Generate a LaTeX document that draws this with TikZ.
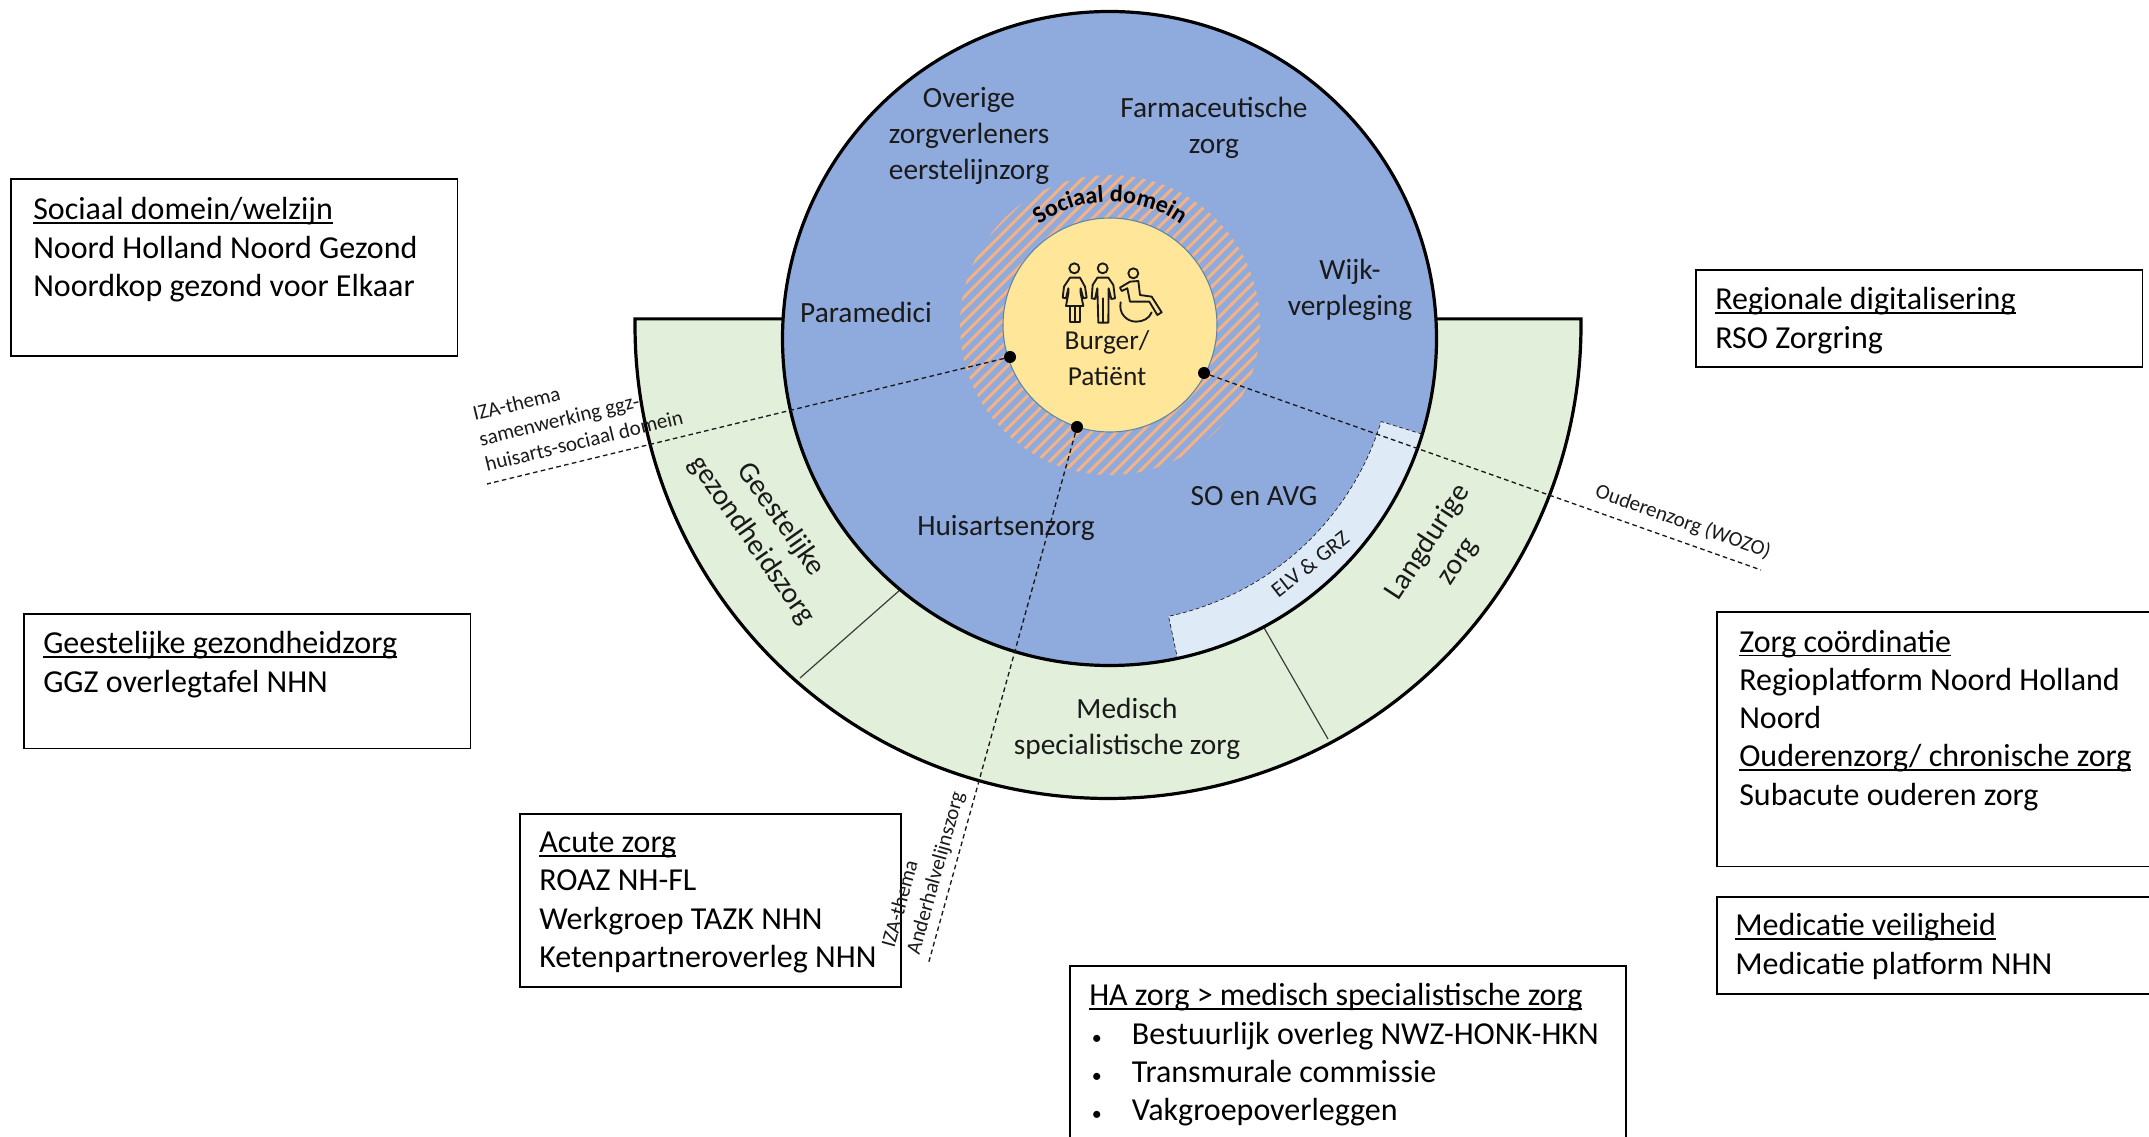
\documentclass[tikz,border=0pt]{standalone}
\usepackage{fontspec}
\setmainfont{Carlito}
\usetikzlibrary{decorations.text}
\definecolor{mainblue}{HTML}{8FAADC}
\definecolor{ringgreen}{HTML}{E2EFDA}
\definecolor{lightblue}{HTML}{DEEAF6}
\definecolor{coreyellow}{HTML}{FFE699}
\definecolor{hatch}{HTML}{F4B183}
\definecolor{ink}{HTML}{1A1A1A}
\definecolor{coreedge}{HTML}{5B86A8}
\newsavebox\ulbox
\newcommand\ulx[1]{\sbox\ulbox{#1}\rlap{\rule[-3pt]{\wd\ulbox}{1.2pt}}\usebox\ulbox}
\newcommand\bulletx{\makebox[32pt][l]{\hspace{2pt}\fontsize{15}{15}\selectfont •}}
\tikzset{
  x=0.75pt,y=0.75pt,
  infobox/.style={draw=black,line width=1.3pt,fill=white,anchor=north west,inner sep=0pt},
  boxtext/.style={anchor=north west,align=left,inner sep=0pt,font=\fontsize{24}{28.6}\selectfont,text=black},
  lbl/.style={align=center,inner sep=0pt,text=ink,font=\fontsize{22}{26.7}\selectfont},
  small/.style={align=left,inner sep=0pt,text=ink,font=\fontsize{15.8}{19.5}\selectfont},
  theme/.style={dash pattern=on 3.5pt off 2.5pt,line width=1pt,draw=ink},
  dot/.style={circle,fill=black,inner sep=0pt,minimum size=9pt},
  icon/.style={draw=ink,line width=1.4pt,line join=round,line cap=round,fill=none},
}
\begin{document}
\begin{tikzpicture}
\useasboundingbox (0,0) rectangle (2149,1136);
\clip (0,0) rectangle (2149,1136);
\coordinate (C) at (1109.5,797.5);
\coordinate (R) at (1108,810.5);
\coordinate (Y) at (1110,811);
% outer ring
\draw[fill=ringgreen,line width=2.4pt,draw=black] (R) ++(179.2:473) arc[start angle=179.2,end angle=360.8,radius=473] -- cycle;
\coordinate (d1a) at (900,546);\coordinate (d1b) at (800,458);
\coordinate (d2a) at (1263,510);\coordinate (d2b) at (1328,397);
\draw[line width=0.9pt,draw=ink!85] (d1a)--(d1b);
\draw[line width=0.9pt,draw=ink!85] (d2a)--(d2b);
% main circle
\fill[mainblue] (C) circle (327);
% ELV band
\draw[fill=lightblue,draw=ink,line width=0.5pt,densely dashed] (C) ++(-17:327) -- ++(-17:-43) arc[start angle=-17,end angle=-78,radius=284] -- ++(-78:43) arc[start angle=-78,end angle=-17,radius=327] -- cycle;
\draw[line width=2.4pt,draw=black] (C) circle (327);
% hatch ring
\begin{scope}
\clip (Y) circle (150);
\foreach \k in {-30,...,30}{
  \draw[hatch,line width=2.2pt] (960+\k*12.5,660) -- ++(320,320);
}
\end{scope}
\draw[fill=coreyellow,draw=coreedge,line width=0.8pt] (Y) circle (107);
\path[decorate,decoration={text along path,text align=center,text format delimiters={|}{|},text={|\fontsize{18}{18}\bfseries\selectfont|Sociaal domein}}]
  (Y) ++(150:123) arc[start angle=150,end angle=30,radius=123];
% icons
\begin{scope}[shift={(1050,881)},x=0.25pt,y=-0.25pt]
  \draw[icon] (73,40) circle (15);
  \draw[icon] (60,68) -- (42,95) -- (38,128) -- (48,130) -- (55,100) -- (55,115) -- (48,153) -- (100,153) -- (92,115) -- (92,100) -- (100,130) -- (110,128) -- (105,95) -- (90,68) -- cycle;
  \draw[icon] (60,153) -- (60,202) -- (90,202) -- (90,153) (75,153) -- (75,202);
  \draw[icon] (158,40) circle (15);
  \draw[icon] (142,68) -- (128,90) -- (125,130) -- (135,132) -- (142,100) -- (145,203) -- (175,203) -- (176,100) -- (184,132) -- (195,130) -- (190,90) -- (175,68) -- cycle;
  \draw[icon] (160,130) -- (160,203);
  \draw[icon] (250,55) circle (15);
  \draw[icon] (240,80) -- (210,98) -- (215,108) -- (232,100) -- (240,140) -- (298,140) -- (322,180) -- (335,172) -- (305,125) -- (270,120) -- (265,78) -- cycle;
  \draw[icon] (212,142) .. controls (205,175) and (230,200) .. (258,200) .. controls (280,200) and (298,190) .. (305,172);
\end{scope}
% dots
\node[dot] (dotL) at (1010,779) {};
\node[dot] (dotB) at (1077,709) {};
\node[dot] (dotR) at (1204,763) {};
\coordinate (endL) at (487,652);
\coordinate (endB) at (928,171);
\coordinate (endR) at (1761,566);
\draw[theme] (dotL) -- (endL);
\draw[theme] (dotB) -- (endB);
\draw[theme] (dotR) -- (endR);
% centre labels
\node[lbl] (overige) at (969,1000) {Overige\\zorgverleners\\eerstelijnzorg};
\node[lbl] (farma) at (1214,1008) {Farmaceutische\\zorg};
\node[lbl] (wijk) at (1350,846) {Wijk-\\verpleging};
\node[lbl] (para) at (866,824) {Paramedici};
\node[lbl] (huis) at (1006,608) {Huisartsenzorg};
\node[lbl] (so) at (1254,640) {SO en AVG};
\node[lbl,font=\fontsize{20.5}{26.7}\selectfont] (burger) at (1107,778) {Burger/\\Patiënt};
\node[lbl] (med) at (1127,407) {Medisch\\specialistische zorg};
\node[lbl,rotate=57] (lang) at (1443,584) {Langdurige\\zorg};
\node[lbl,rotate=-55] (geest) at (766,606) {Geestelijke\\gezondheidszorg};
\node[lbl,rotate=38,font=\fontsize{16.5}{18}\selectfont] (elv) at (1310,572) {ELV \& GRZ};
% info boxes
\node[infobox,minimum width=335pt,minimum height=133pt] (b1) at (10,958) {};
\node[boxtext] at (33,938.5) {\ulx{Sociaal domein/welzijn}\\Noord Holland Noord Gezond\\Noordkop gezond voor Elkaar};
\node[infobox,minimum width=335pt,minimum height=73pt] (b2) at (1695,867) {};
\node[boxtext] at (1715,848.5) {\ulx{Regionale digitalisering}\\RSO Zorgring};
\node[infobox,minimum width=335pt,minimum height=101pt] (b3) at (23,523) {};
\node[boxtext] at (43,504.5) {\ulx{Geestelijke gezondheidzorg}\\GGZ overlegtafel NHN};
\node[infobox,minimum width=345pt,minimum height=191pt] (b4) at (1716,525) {};
\node[boxtext] at (1739,506) {\ulx{Zorg coördinatie}\\Regioplatform Noord Holland\\Noord\\\ulx{Ouderenzorg/ chronische zorg}\\Subacute ouderen zorg};
\node[infobox,minimum width=345pt,minimum height=73pt] (b5) at (1716,240) {};
\node[boxtext] at (1735,222.5) {\ulx{Medicatie veiligheid}\\Medicatie platform NHN};
\node[infobox,minimum width=286pt,minimum height=130pt] (b6) at (519,323) {};
\node[boxtext] at (539,304) {\ulx{Acute zorg}\\ROAZ NH-FL\\Werkgroep TAZK NHN\\Ketenpartneroverleg NHN};
\node[infobox,minimum width=417pt,minimum height=150pt] (b7) at (1069,171) {};
\node[boxtext] at (1089,152.5) {\ulx{HA zorg > medisch specialistische zorg}\\\bulletx Bestuurlijk overleg NWZ-HONK-HKN\\\bulletx Transmurale commissie\\\bulletx Vakgroepoverleggen};
% theme labels, on top of the boxes
\node[small,rotate=13.65,anchor=south west] (izaL) at (487,664) {IZA-thema\\samenwerking ggz-\\huisarts-sociaal domein};
\node[small,rotate=74.5,anchor=south west] (izaB) at (923,179) {IZA-thema\\Anderhalvelijnszorg};
\node[small,rotate=-19.5] (ouder) at (1683,614) {Ouderenzorg (WOZO)};
\end{tikzpicture}
\end{document}
